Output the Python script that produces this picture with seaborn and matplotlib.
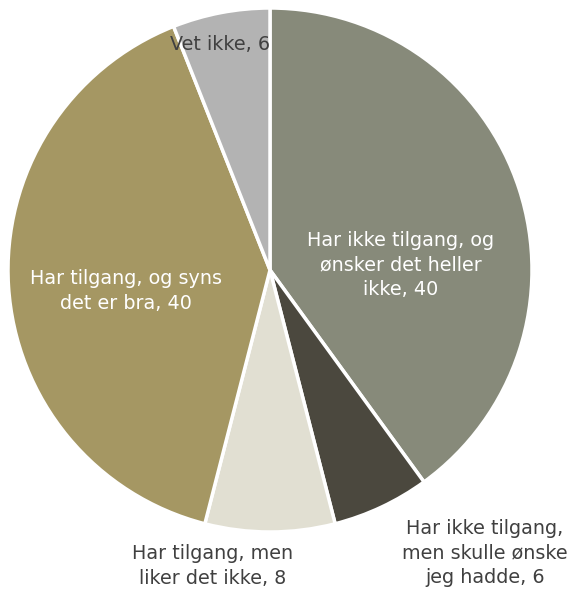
import matplotlib
matplotlib.use('Agg')
import matplotlib.pyplot as plt
import seaborn as sns

sns.set_theme(style='white')
plt.rcParams['font.family'] = ['DejaVu Sans']

# data
labels = ['Har ikke tilgang, og\nønsker det heller\nikke, 40',
          'Har ikke tilgang,\nmen skulle ønske\njeg hadde, 6',
          'Har tilgang, men\nliker det ikke, 8',
          'Har tilgang, og syns\ndet er bra, 40',
          'Vet ikke, 6']
values = [40, 6, 8, 40, 6]
colors = ['#878a7a', '#4b483e', '#e1dfd2', '#a59763', '#b3b3b3']

# label positions (in pie radius units) and text colours
label_pos = [(0.50, 0.02), (0.82, -1.08), (-0.22, -1.13), (-0.55, -0.08), (-0.19, 0.86)]
label_col = ['white', '#404040', '#404040', 'white', '#404040']

fig = plt.figure(figsize=(5.69, 5.89), dpi=100)
ax = fig.add_axes([8/569, 57/589, 524/569, 524/589])
ax.pie(values, colors=colors, startangle=90, counterclock=False, radius=1,
       wedgeprops=dict(edgecolor='white', linewidth=2.5))
ax.set_xlim(-1, 1)
ax.set_ylim(-1, 1)
ax.set_aspect('equal')
ax.axis('off')

for lab, (x, y), c in zip(labels, label_pos, label_col):
    ax.text(x, y, lab, ha='center', va='center', color=c, fontsize=13.8,
            linespacing=1.35, clip_on=False)

fig.savefig('out.png', dpi=100, facecolor='white')
